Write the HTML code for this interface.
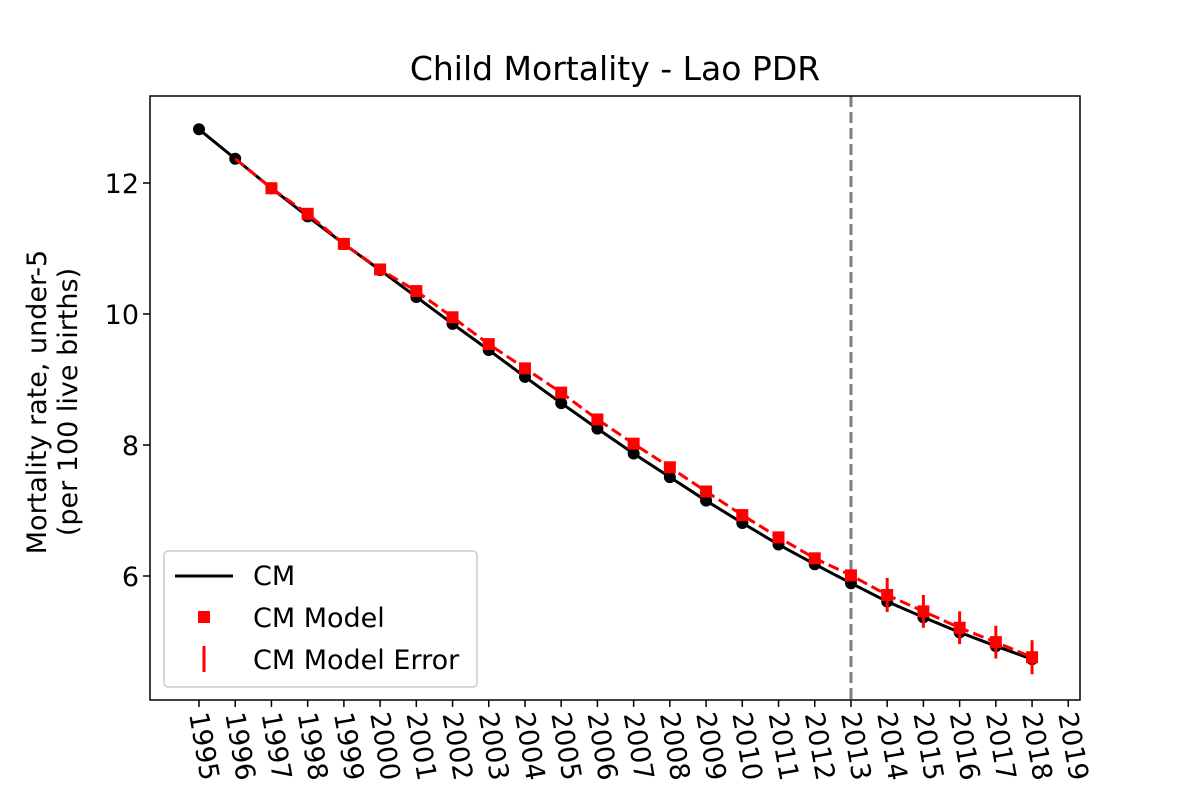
<!DOCTYPE html>
<html><head><meta charset="utf-8"><style>
body{margin:0;background:#fff;}
svg text{font-family:"DejaVu Sans","Liberation Sans",sans-serif;fill:#000;}
</style></head><body>
<svg id="chart" width="1200" height="800" xmlns="http://www.w3.org/2000/svg">
<rect width="1200" height="800" fill="#fff"/>
<text x="615" y="80" font-size="33" text-anchor="middle">Child Mortality - Lao PDR</text>
<g transform="translate(46,402) rotate(-90)">
<text x="0" y="0" font-size="27" text-anchor="middle">Mortality rate, under-5</text>
<text x="0" y="31" font-size="27" text-anchor="middle">(per 100 live births)</text>
</g>
<g id="plot"></g>
</svg>
<script>
const years=[1995,1996,1997,1998,1999,2000,2001,2002,2003,2004,2005,2006,2007,2008,2009,2010,2011,2012,2013,2014,2015,2016,2017,2018];
const cmValues=[12.82,12.37,11.92,11.49,11.07,10.67,10.26,9.85,9.45,9.04,8.64,8.25,7.87,7.51,7.15,6.81,6.48,6.18,5.89,5.61,5.37,5.14,4.93,4.73];
const modelYears=[1996,1997,1998,1999,2000,2001,2002,2003,2004,2005,2006,2007,2008,2009,2010,2011,2012,2013,2014,2015,2016,2017,2018];
const modelValues=[12.37,11.92,11.53,11.07,10.68,10.35,9.95,9.54,9.17,8.80,8.39,8.02,7.66,7.29,6.93,6.59,6.27,6.01,5.71,5.46,5.21,4.99,4.76];
const modelErrors=[0,0.02,0.02,0.02,0.02,0.02,0.02,0.02,0.02,0.02,0.02,0.02,0.02,0.02,0.02,0.02,0.02,0.03,0.26,0.25,0.25,0.25,0.26];
const xTicks=[1995,1996,1997,1998,1999,2000,2001,2002,2003,2004,2005,2006,2007,2008,2009,2010,2011,2012,2013,2014,2015,2016,2017,2018,2019];
const yTicks=[6,8,10,12];
const splitYear=2013;
const NS="http://www.w3.org/2000/svg";
const L=150,R=1080,T=96,B=700;
const x=v=>199+(v-1995)*36.22;
const y=v=>183+(12-v)*65.5;
const g=document.getElementById('plot');
function mk(t,a,p){const e=document.createElementNS(NS,t);for(const k in a)e.setAttribute(k,a[k]);(p||g).appendChild(e);return e;}
xTicks.forEach(t=>{
const tk=mk('line',{x1:x(t),x2:x(t),y1:B,y2:B+7,stroke:'#000','stroke-width':1.5});


const tx=mk('text',{x:0,y:0,'font-size':27,transform:`translate(${x(t)-10},${B+14}) rotate(80)`});
tx.textContent=t;


});
yTicks.forEach(t=>{
const tk=mk('line',{x1:L-7,x2:L,y1:y(t),y2:y(t),stroke:'#000','stroke-width':1.5});


const tx=mk('text',{x:L-11,y:y(t)+10,'font-size':27,'text-anchor':'end'});
tx.textContent=t;


});
const sl=mk('line',{x1:x(splitYear),x2:x(splitYear),y1:T,y2:B,stroke:'#808080','stroke-width':3,'stroke-dasharray':'11,5'});


const cm=mk('polyline',{points:years.map((v,i)=>x(v)+','+y(cmValues[i])).join(' '),fill:'none',stroke:'#000','stroke-width':3});


years.forEach((v,i)=>{const c=mk('circle',{cx:x(v),cy:y(cmValues[i]),r:6,fill:'#000'});

});
const ml=mk('polyline',{points:modelYears.map((v,i)=>x(v)+','+y(modelValues[i])).join(' '),fill:'none',stroke:'#f00','stroke-width':3,'stroke-dasharray':'11,5'});


modelYears.forEach((v,i)=>{
const e=mk('line',{x1:x(v),x2:x(v),y1:y(modelValues[i]+modelErrors[i]),y2:y(modelValues[i]-modelErrors[i]),stroke:'#f00','stroke-width':3});


if(i>0){const s=mk('rect',{x:x(v)-6,y:y(modelValues[i])-6,width:12,height:12,fill:'#f00'});

}
});
const fr=mk('rect',{x:L,y:T,width:R-L,height:B-T,fill:'none',stroke:'#000','stroke-width':1.5});


const lg=mk('g',{});


mk('rect',{x:164,y:551,width:313,height:136,rx:4,fill:'#fff','fill-opacity':0.8,stroke:'#ccc','stroke-width':1.5},lg);
mk('line',{x1:175,x2:233,y1:576,y2:576,stroke:'#000','stroke-width':3},lg);
mk('rect',{x:198,y:611,width:12,height:12,fill:'#f00'},lg);
mk('line',{x1:204,x2:204,y1:646,y2:672,stroke:'#f00','stroke-width':3},lg);
[['CM',585],['CM Model',627],['CM Model Error',669]].forEach(([t,yy])=>{const tx=mk('text',{x:253,y:yy,'font-size':27},lg);tx.textContent=t;

});
</script>
</body></html>
